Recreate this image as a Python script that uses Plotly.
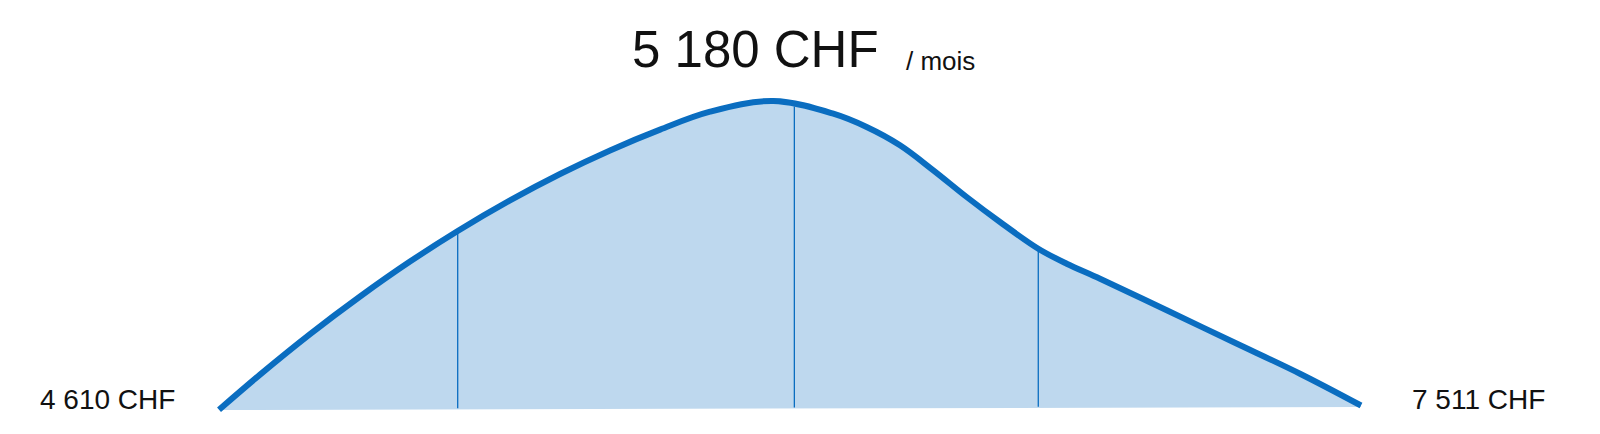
import numpy as np
import plotly.graph_objects as go

# Schematic salary distribution (horizontal position 0..100, height above baseline)
curve_x = [0, 3.59, 7.97, 12.35, 16.72, 20.90, 25.48, 29.86, 34.24, 38.62,
           43.00, 48.54, 53.79, 56.71, 59.63, 62.55, 65.47, 68.39, 71.74,
           74.23, 77.15, 82.99, 88.82, 94.66, 100]
curve_y = [0.3, 35.4, 75.9, 113.5, 148.4, 179, 209.6, 236, 259.6, 280.4,
           298.3, 309, 296.3, 283, 264.7, 239.7, 213, 188, 161.3,
           146.3, 131.3, 99.7, 68, 36.3, 4.5]
baseline_x = [0, 100]
baseline_y = [0, 3]
quartile_x = [20.90, 50.38, 71.74]

median_label = "5 180 CHF"
unit_label = "/ mois"
low_label = "4 610 CHF"
high_label = "7 511 CHF"

LINE = "#0a6dc0"
FILL = "#bed8ee"
FONT = "Liberation Sans, Arial, sans-serif"

fig = go.Figure()

# baseline (invisible) for fill
fig.add_trace(go.Scatter(x=baseline_x, y=baseline_y, mode="lines",
                         line=dict(width=0, color=FILL), hoverinfo="skip",
                         showlegend=False))
# filled area under curve
fig.add_trace(go.Scatter(x=curve_x, y=curve_y, mode="lines",
                         line=dict(width=0, color=FILL, shape="spline", smoothing=1.0),
                         fill="tonexty", fillcolor=FILL, hoverinfo="skip",
                         showlegend=False))

# quartile lines
for qx in quartile_x:
    top = float(np.interp(qx, curve_x, curve_y)) - 1
    bot = float(np.interp(qx, baseline_x, baseline_y)) + 1
    fig.add_trace(go.Scatter(x=[qx, qx], y=[bot, top], mode="lines",
                             line=dict(width=1.3, color=LINE),
                             hoverinfo="skip", showlegend=False))

# curve stroke
fig.add_trace(go.Scatter(x=curve_x, y=curve_y, mode="lines",
                         line=dict(width=6, color=LINE, shape="spline", smoothing=1.0),
                         hoverinfo="skip", showlegend=False))

fig.add_annotation(x=47.0, y=360.5, text=median_label, showarrow=False,
                   xanchor="center", yanchor="middle",
                   font=dict(family=FONT, size=51, color="#111111"))
fig.add_annotation(x=59.98, y=349, text=unit_label, showarrow=False,
                   xanchor="left", yanchor="middle",
                   font=dict(family=FONT, size=26, color="#111111"))
fig.add_annotation(x=-3.68, y=11, text=low_label, showarrow=False,
                   xanchor="right", yanchor="middle",
                   font=dict(family=FONT, size=28, color="#111111"))
fig.add_annotation(x=104.29, y=11, text=high_label, showarrow=False,
                   xanchor="left", yanchor="middle",
                   font=dict(family=FONT, size=28, color="#111111"))

fig.update_layout(
    width=1600, height=434,
    margin=dict(l=0, r=0, t=0, b=0),
    paper_bgcolor="white", plot_bgcolor="white",
    xaxis=dict(range=[-18.48, 121.63], visible=False, fixedrange=True),
    yaxis=dict(range=[-32, 402], visible=False, fixedrange=True),
    showlegend=False,
)

fig.write_html("out.html")
